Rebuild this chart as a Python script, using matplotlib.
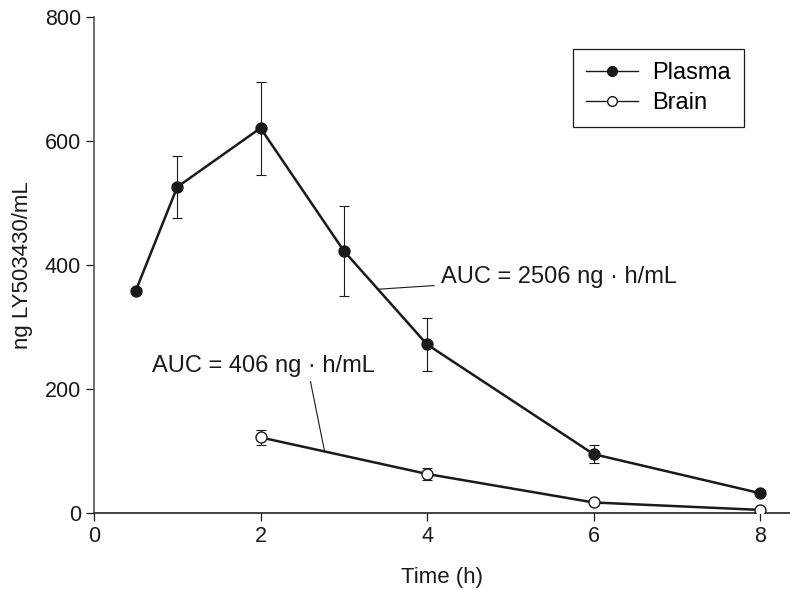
import matplotlib
matplotlib.use("Agg")
import matplotlib.pyplot as plt
from matplotlib.lines import Line2D

plt.rcParams['font.family'] = ['Liberation Sans', 'DejaVu Sans']

# plasma concentration (ng/mL) with error bars
plasma_t = [0.5, 1, 2, 3, 4, 6, 8]
plasma_y = [358, 526, 621, 423, 272, 95, 32]
plasma_err = [0, 50, 75, 73, 43, 15, 0]

# brain concentration
brain_t = [2, 4, 6, 8]
brain_y = [122, 63, 17, 5]
brain_err = [12, 9, 0, 0]

x_ticks = [0, 2, 4, 6, 8]
y_ticks = [0, 200, 400, 600, 800]

fig = plt.figure(figsize=(7.9, 5.9), dpi=100)
ax = fig.add_axes([0.119, 0.1305, 0.881, 0.8405])

ink = '#1a1a1a'
ax.errorbar(plasma_t, plasma_y, yerr=plasma_err, fmt='none', ecolor=ink,
            elinewidth=0.8, capsize=3.3, capthick=0.8, zorder=2)
ax.plot(plasma_t, plasma_y, '-o', color=ink, lw=1.8, ms=7.9,
        mfc=ink, mec=ink, zorder=3)

ax.errorbar(brain_t, brain_y, yerr=brain_err, fmt='none', ecolor=ink,
            elinewidth=0.8, capsize=3.3, capthick=0.8, zorder=2)
ax.plot(brain_t, brain_y, '-o', color=ink, lw=1.8, ms=7.9,
        mfc='white', mec=ink, mew=1.0, zorder=3)

# AUC callouts
ax.annotate('AUC = 2506 ng · h/mL', xy=(3.41, 361), xytext=(4.17, 380),
            fontsize=17, va='center', ha='left', color=ink,
            arrowprops=dict(arrowstyle='-', lw=0.8, color=ink, shrinkA=3, shrinkB=0))
ax.annotate('AUC = 406 ng · h/mL', xy=(2.77, 99), xytext=(0.7, 237),
            fontsize=17, va='center', ha='left', color=ink)
ax.plot([2.6, 2.77], [212, 99], color=ink, lw=0.8)

ax.set_xlim(0, 8.36)
ax.set_ylim(0, 800)
ax.set_xticks(x_ticks)
ax.set_yticks(y_ticks)
ax.tick_params(labelsize=15.5, length=6, width=0.9, colors=ink)
ax.set_xlabel('Time (h)', fontsize=16, labelpad=14, color=ink)
ax.set_ylabel('ng LY503430/mL', fontsize=16, labelpad=8, color=ink)

ax.spines['top'].set_visible(False)
ax.spines['right'].set_visible(False)
ax.spines['left'].set_color('#555555')
ax.spines['bottom'].set_color('#222222')
ax.spines['left'].set_linewidth(1.2)
ax.spines['bottom'].set_linewidth(1.2)

handles = [
    Line2D([], [], color=ink, lw=1, marker='o', ms=7, mfc=ink, mec=ink),
    Line2D([], [], color=ink, lw=1, marker='o', ms=7, mfc='white', mec=ink),
]
leg = ax.legend(handles, ['Plasma', 'Brain'], loc='upper left',
                bbox_to_anchor=(0.688, 0.935), borderaxespad=0, fontsize=17,
                fancybox=False, framealpha=1, edgecolor=ink,
                handlelength=2.2, handletextpad=0.6, borderpad=0.55,
                labelspacing=0.32)
leg.get_frame().set_linewidth(0.9)

fig.savefig('out.png', dpi=100)
